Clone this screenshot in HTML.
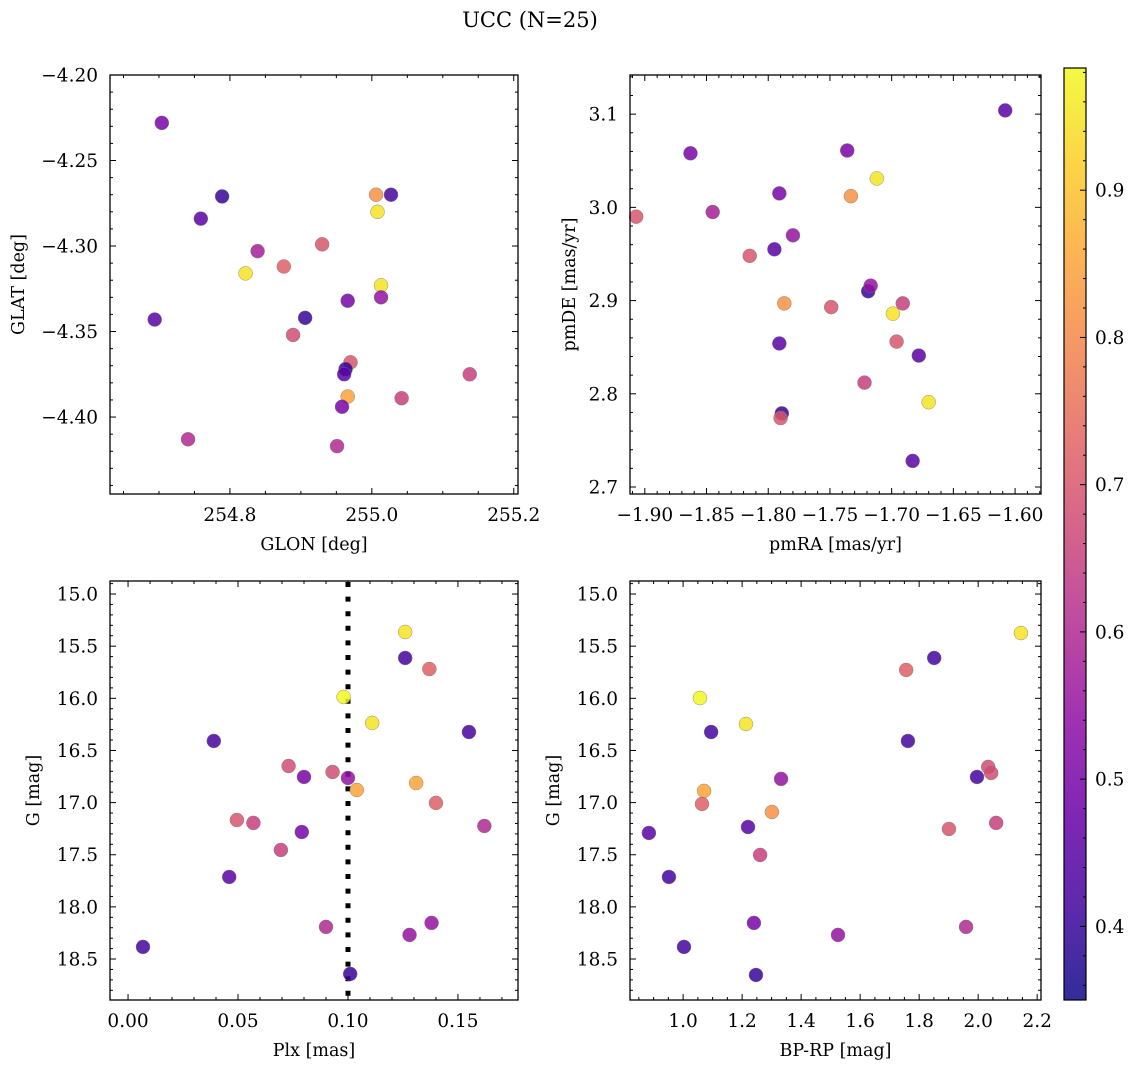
<!DOCTYPE html>
<html><head><meta charset="utf-8">
<style>
html,body{margin:0;padding:0;background:#fff;}
svg text{font-family:"DejaVu Serif","Liberation Serif",serif;fill:#000;}
</style></head>
<body>
<svg id="fig" width="1136" height="1068" viewBox="0 0 1136 1068" xmlns="http://www.w3.org/2000/svg">
<text x="530" y="27" font-size="21" text-anchor="middle">UCC (N=25)</text>
</svg>
<script>
// ---- data ----
const p1Glon=[254.704,254.789,254.759,254.839,254.822,254.876,254.930,254.694,254.906,254.889,254.966,255.006,255.027,255.008,255.013,255.013,254.970,254.963,254.961,254.966,254.958,254.951,255.042,255.138,254.741];
const p1Glat=[-4.228,-4.271,-4.284,-4.303,-4.316,-4.312,-4.299,-4.343,-4.342,-4.352,-4.332,-4.270,-4.270,-4.280,-4.323,-4.330,-4.368,-4.372,-4.375,-4.388,-4.394,-4.417,-4.389,-4.375,-4.413];
const p1Prob=[0.50,0.40,0.45,0.58,0.95,0.72,0.70,0.45,0.40,0.68,0.50,0.82,0.42,0.95,0.95,0.55,0.70,0.40,0.45,0.85,0.50,0.60,0.65,0.65,0.60];

const p2Pmra=[-1.608,-1.863,-1.907,-1.845,-1.791,-1.736,-1.712,-1.733,-1.795,-1.780,-1.815,-1.719,-1.717,-1.787,-1.749,-1.691,-1.699,-1.696,-1.791,-1.678,-1.722,-1.670,-1.789,-1.790,-1.683];
const p2Pmde=[3.104,3.058,2.990,2.995,3.015,3.061,3.031,3.012,2.955,2.970,2.948,2.910,2.916,2.897,2.893,2.897,2.886,2.856,2.854,2.841,2.812,2.791,2.779,2.774,2.728];
const p2Prob=[0.45,0.50,0.70,0.58,0.50,0.50,0.95,0.82,0.45,0.55,0.70,0.40,0.55,0.82,0.70,0.65,0.95,0.70,0.45,0.45,0.65,0.95,0.40,0.70,0.45];

const p3Plx=[0.0068,0.039,0.046,0.0495,0.057,0.0695,0.073,0.080,0.079,0.090,0.093,0.098,0.100,0.101,0.104,0.111,0.126,0.126,0.137,0.131,0.140,0.155,0.162,0.128,0.138];
const p3G=[18.384,16.409,17.713,17.167,17.195,17.454,16.649,16.754,17.282,18.192,16.706,15.987,16.764,18.643,16.879,16.236,15.364,15.613,15.719,16.812,17.003,16.323,17.224,18.269,18.154];
const p3Prob=[0.42,0.42,0.45,0.70,0.65,0.65,0.68,0.50,0.50,0.60,0.68,0.98,0.55,0.40,0.85,0.95,0.95,0.42,0.72,0.85,0.72,0.42,0.60,0.55,0.55];
const plxLine=[0.1];

const p4Bprp=[0.884,0.952,1.003,1.057,1.071,1.064,1.095,1.213,1.220,1.240,1.247,1.261,1.301,1.332,1.525,1.756,1.851,1.762,1.901,1.959,1.996,2.034,2.044,2.061,2.145];
const p4G=[17.291,17.713,18.384,15.997,16.888,17.013,16.323,16.246,17.234,18.154,18.653,17.502,17.090,16.773,18.269,15.728,15.613,16.409,17.253,18.192,16.754,16.658,16.716,17.195,15.374];
const p4Prob=[0.45,0.42,0.42,0.98,0.85,0.72,0.42,0.95,0.45,0.50,0.40,0.65,0.82,0.55,0.55,0.72,0.42,0.42,0.70,0.60,0.42,0.68,0.68,0.65,0.95];

const cbTicks=[0.4,0.5,0.6,0.7,0.8,0.9];
const cMin=0.35, cMax=0.983;

// ---- helpers ----
const NS="http://www.w3.org/2000/svg";
const svg=document.getElementById('fig');
function mk(tag,attrs,parent){const e=document.createElementNS(NS,tag);for(const k in attrs)e.setAttribute(k,attrs[k]);(parent||svg).appendChild(e);return e;}
const plasma=[[13,8,135],[65,4,157],[106,0,168],[143,13,164],[177,42,144],[204,71,120],[225,100,98],[242,132,75],[252,166,54],[252,206,37],[240,249,33]];
function cmap(v){let t=(v-cMin)/(cMax-cMin);t=Math.max(0,Math.min(1,t));const f=t*10,i=Math.min(9,Math.floor(f)),r=f-i;const a=plasma[i],b=plasma[i+1];return `rgb(${Math.round(a[0]+(b[0]-a[0])*r)},${Math.round(a[1]+(b[1]-a[1])*r)},${Math.round(a[2]+(b[2]-a[2])*r)})`;}
function fmt(v,d){let s=v.toFixed(d);return s.replace('-','\u2212');}
const TF=18.5;

function panel(o){
  const g=mk('g',{});
  
  
  const sx=v=>o.x0+(v-o.xmin)/(o.xmax-o.xmin)*(o.x1-o.x0);
  const sy=v=>o.yInv? o.y0+(v-o.ymin)/(o.ymax-o.ymin)*(o.y1-o.y0) : o.y1-(v-o.ymin)/(o.ymax-o.ymin)*(o.y1-o.y0);
  if(o.vline){o.vline.forEach(v=>{const l=mk('line',{x1:sx(v),x2:sx(v),y1:o.y0+1,y2:o.y1,stroke:'#000','stroke-width':5,'stroke-dasharray':'5,9.6'},g);
    });}
  for(let i=0;i<o.xs.length;i++){
    const c=mk('circle',{cx:sx(o.xs[i]),cy:sy(o.ys[i]),r:7,fill:cmap(o.cs[i]),'fill-opacity':0.85,stroke:'#777','stroke-width':0.4},g);
    
    
  }
  const fr=mk('rect',{x:o.x0,y:o.y0,width:o.x1-o.x0,height:o.y1-o.y0,fill:'none',stroke:'#000','stroke-width':1.3},g);
  
  const xa=Math.min(o.xmin,o.xmax),xb=Math.max(o.xmin,o.xmax);
  for(let v=Math.ceil(xa/o.xminor-1e-6)*o.xminor;v<=xb+1e-9;v+=o.xminor){
    const major=Math.abs(v/o.xmajor-Math.round(v/o.xmajor))<1e-4;const L=major?6:3;const x=sx(v);
    mk('line',{x1:x,x2:x,y1:o.y1,y2:o.y1-L,stroke:'#000','stroke-width':1},g);
    mk('line',{x1:x,x2:x,y1:o.y0,y2:o.y0+L,stroke:'#000','stroke-width':1},g);
    if(major){const t=mk('text',{x:x,y:o.y1+27,'font-size':TF,'text-anchor':'middle'},g);t.textContent=fmt(v,o.xd);
      }
  }
  const ya=Math.min(o.ymin,o.ymax),yb=Math.max(o.ymin,o.ymax);
  for(let v=Math.ceil(ya/o.yminor-1e-6)*o.yminor;v<=yb+1e-9;v+=o.yminor){
    const major=Math.abs(v/o.ymajor-Math.round(v/o.ymajor))<1e-4;const L=major?6:3;const y=sy(v);
    mk('line',{x1:o.x0,x2:o.x0+L,y1:y,y2:y,stroke:'#000','stroke-width':1},g);
    mk('line',{x1:o.x1,x2:o.x1-L,y1:y,y2:y,stroke:'#000','stroke-width':1},g);
    if(major){const t=mk('text',{x:o.x0-12,y:y+6.5,'font-size':TF,'text-anchor':'end'},g);t.textContent=fmt(v,o.yd);
      }
  }
  const xl=mk('text',{x:(o.x0+o.x1)/2,y:o.y1+56,'font-size':17.5,'text-anchor':'middle'},g);xl.textContent=o.xlabel;
  
  const yx=o.ylx,yy=(o.y0+o.y1)/2;
  const yl=mk('text',{x:yx,y:yy,'font-size':17.5,'text-anchor':'middle',transform:`rotate(-90 ${yx} ${yy})`},g);yl.textContent=o.ylabel;
  
}

panel({name:'glon-glat-panel',x0:110,x1:518,y0:75,y1:494,xmin:254.631,xmax:255.206,ymin:-4.445,ymax:-4.20,xmajor:0.2,xminor:0.05,ymajor:0.05,yminor:0.01,xd:1,yd:2,xs:p1Glon,ys:p1Glat,cs:p1Prob,xlabel:'GLON [deg]',ylabel:'GLAT [deg]',ylx:24});
panel({name:'pm-panel',x0:630,x1:1041,y0:75,y1:494,xmin:-1.912,xmax:-1.579,ymin:2.6925,ymax:3.142,xmajor:0.05,xminor:0.01,ymajor:0.1,yminor:0.02,xd:2,yd:1,xs:p2Pmra,ys:p2Pmde,cs:p2Prob,xlabel:'pmRA [mas/yr]',ylabel:'pmDE [mas/yr]',ylx:575});
panel({name:'plx-g-panel',x0:110,x1:518,y0:581,y1:1000,xmin:-0.0082,xmax:0.1773,ymin:14.875,ymax:18.893,yInv:true,xmajor:0.05,xminor:0.01,ymajor:0.5,yminor:0.1,xd:2,yd:1,xs:p3Plx,ys:p3G,cs:p3Prob,vline:plxLine,xlabel:'Plx [mas]',ylabel:'G [mag]',ylx:39});
panel({name:'cmd-panel',x0:630,x1:1041,y0:581,y1:1000,xmin:0.820,xmax:2.213,ymin:14.875,ymax:18.893,yInv:true,xmajor:0.2,xminor:0.05,ymajor:0.5,yminor:0.1,xd:1,yd:1,xs:p4Bprp,ys:p4G,cs:p4Prob,xlabel:'BP-RP [mag]',ylabel:'G [mag]',ylx:559});

// colorbar
const cb=mk('g',{});


const defs=mk('defs',{},cb);
const gr=mk('linearGradient',{id:'cbg',x1:0,y1:1,x2:0,y2:0},defs);
plasma.forEach((c,i)=>mk('stop',{offset:i/10,'stop-color':`rgb(${c[0]},${c[1]},${c[2]})`,'stop-opacity':0.85},gr));
const cbx0=1064,cbx1=1086,cby0=68,cby1=1000;
mk('rect',{x:cbx0,y:cby0,width:cbx1-cbx0,height:cby1-cby0,fill:'url(#cbg)',stroke:'#000','stroke-width':1.2},cb);
const cy=v=>cby1-(v-cMin)/(cMax-cMin)*(cby1-cby0);
for(let v=0.36;v<=cMax;v+=0.02){const maj=Math.abs(v*10-Math.round(v*10))<1e-4;const y=cy(v);
  mk('line',{x1:cbx1,x2:cbx1-(maj?6:3),y1:y,y2:y,stroke:'#000','stroke-width':1},cb);}
cbTicks.forEach(v=>{const t=mk('text',{x:cbx1+9,y:cy(v)+6.5,'font-size':TF},cb);t.textContent=v.toFixed(1);
  });
</script>
</body></html>
